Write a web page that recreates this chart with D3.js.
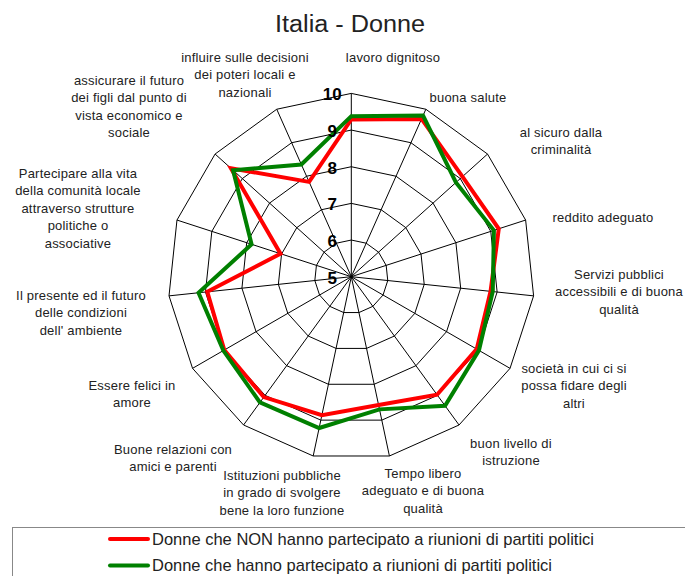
<!DOCTYPE html>
<html>
<head>
<meta charset="utf-8">
<script src="https://cdn.jsdelivr.net/npm/d3@7"></script>
<style>
  body { margin: 0; background: #fff; }
  svg { display: block; font-family: "Liberation Sans", Arial, sans-serif; }
</style>
</head>
<body>
<svg id="chart" width="685" height="576"></svg>
<script>
// axis labels, clockwise from the top (each entry = lines of the label)
let axis_labels = [
    ["lavoro dignitoso"],
    ["buona salute"],
    ["al sicuro dalla", "criminalità"],
    ["reddito adeguato"],
    ["Servizi pubblici", "accessibili e di buona", "qualità"],
    ["società in cui ci si", "possa fidare degli", "altri"],
    ["buon livello di", "istruzione"],
    ["Tempo libero", "adeguato e di buona", "qualità"],
    ["Istituzioni pubbliche", "in grado di svolgere", "bene la loro funzione"],
    ["Buone relazioni con", "amici e parenti"],
    ["Essere felici in", "amore"],
    ["Il presente ed il futuro", "delle condizioni", "dell' ambiente"],
    ["Partecipare alla vita", "della comunità locale", "attraverso strutture", "politiche o", "associative"],
    ["assicurare il futuro", "dei figli dal punto di", "vista economico e", "sociale"],
    ["influire sulle decisioni", "dei poteri locali e", "nazionali"]
]

let series_names = [
    "Donne che NON hanno partecipato a riunioni di partiti politici",
    "Donne che hanno partecipato a riunioni di partiti politici"
]

let values_non = [9.29, 9.71, 9.08, 9.23, 8.82, 8.95, 8.98, 8.58, 8.86, 9.06, 9.00, 8.95, 7.03, 9.42, 7.83]
let values_si  = [9.38, 9.81, 8.84, 9.09, 8.88, 9.02, 9.35, 8.70, 9.22, 9.24, 9.03, 9.19, 7.86, 9.34, 8.35]

let tick_values = [5, 6, 7, 8, 9, 10]

// layout of the label blocks (center x, y of first line), as laid out in the original
let label_pos = [
    [393, 57], [468, 97], [561, 132], [603, 217], [619, 274],
    [574, 368], [511, 443], [423, 473], [282, 475], [173, 449],
    [132, 385], [81, 295], [78, 173], [129, 80], [245, 57]
]

let colors = ["#ff0000", "#008000"]

let svg = d3.select("#chart")
let cx = 351.3, cy = 276.7, R = 183.3
let n = axis_labels.length

let r = d3.scaleLinear().domain([5, 10]).range([0, R])
let angle = d3.scalePoint().domain(d3.range(n)).range([0, 2 * Math.PI * (n - 1) / n])

let g = svg.append("g").attr("transform", `translate(${cx},${cy})`)

let pt = (i, v) => [Math.sin(angle(i)) * r(v), -Math.cos(angle(i)) * r(v)]

// rings
tick_values.filter(t => t > 5).forEach(t => {
    g.append("path")
        .attr("d", d3.line()(d3.range(n).map(i => pt(i, t))) + "Z")
        .attr("fill", "none")
        .attr("stroke", "#000")
        .attr("stroke-width", 1)
})

// spokes
g.selectAll("line.spoke")
    .data(d3.range(n))
    .join("line")
        .attr("class", "spoke")
        .attr("x1", 0).attr("y1", 0)
        .attr("x2", i => pt(i, 10)[0])
        .attr("y2", i => pt(i, 10)[1])
        .attr("stroke", "#000")
        .attr("stroke-width", 1)

// series
let radar = d3.lineRadial()
    .angle((d, i) => angle(i))
    .radius(d => r(d))
    .curve(d3.curveLinearClosed)

;[values_non, values_si].forEach((vals, k) => {
    g.append("path")
        .attr("d", radar(vals))
        .attr("fill", "none")
        .attr("stroke", colors[k])
        .attr("stroke-width", 4)
        .attr("stroke-linejoin", "miter")
})

// tick labels
g.selectAll("text.tick")
    .data(tick_values)
    .join("text")
        .attr("class", "tick")
        .attr("x", -19)
        .attr("y", d => -r(d) + 1.5)
        .attr("text-anchor", "middle")
        .attr("dominant-baseline", "central")
        .attr("font-size", 17)
        .attr("font-weight", "bold")
        .text(d => d)

// axis labels
let lab = svg.selectAll("text.axis-label")
    .data(axis_labels)
    .join("text")
        .attr("class", "axis-label")
        .attr("font-size", 13)
        .attr("letter-spacing", 0.2)
        .attr("text-anchor", "middle")
        .attr("fill", "#222")

lab.selectAll("tspan")
    .data((d, i) => d.map((s, j) => ({s, j, i})))
    .join("tspan")
        .attr("x", d => label_pos[d.i][0])
        .attr("y", d => label_pos[d.i][1] + d.j * 17.5)
        .attr("dominant-baseline", "central")
        .text(d => d.s)

// title
svg.append("text")
    .attr("x", 275)
    .attr("y", 32)
    .attr("font-size", 23)
    .attr("textLength", 150)
    .attr("lengthAdjust", "spacingAndGlyphs")
    .attr("fill", "#222")
    .text("Italia - Donne")

// legend
svg.append("rect")
    .attr("x", 12.5).attr("y", 527.5)
    .attr("width", 700).attr("height", 80)
    .attr("fill", "none")
    .attr("stroke", "#888")

let leg_y = [539, 565.5]
let leg_len = [442, 400]
series_names.forEach((name, k) => {
    svg.append("line")
        .attr("x1", 110).attr("x2", 148)
        .attr("y1", leg_y[k]).attr("y2", leg_y[k])
        .attr("stroke", colors[k])
        .attr("stroke-width", 4)
        .attr("stroke-linecap", "round")
    svg.append("text")
        .attr("x", 152)
        .attr("y", leg_y[k])
        .attr("dominant-baseline", "central")
        .attr("font-size", 17)
        .attr("textLength", leg_len[k])
        .attr("lengthAdjust", "spacingAndGlyphs")
        .attr("fill", "#222")
        .text(name)
})
</script>
</body>
</html>
